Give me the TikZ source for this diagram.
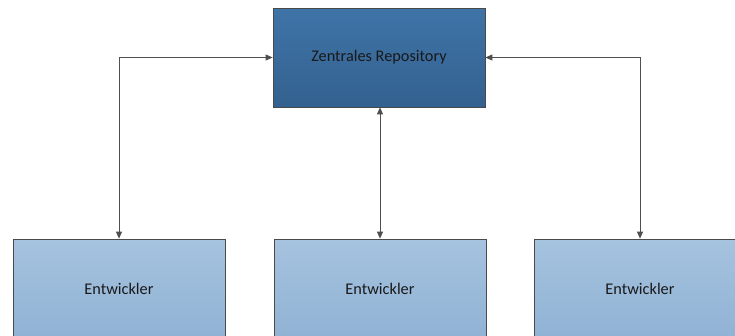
\documentclass[tikz,border=0pt]{standalone}
\usepackage{fontspec}
\setmainfont{Carlito}
\usetikzlibrary{arrows.meta}
\definecolor{repotop}{HTML}{3F74A8}
\definecolor{repobot}{HTML}{33618F}
\definecolor{devtop}{HTML}{A6C3DF}
\definecolor{devbot}{HTML}{90B2D4}
\definecolor{edge}{HTML}{4A4A4A}
\definecolor{wire}{HTML}{4F4F4F}
\tikzset{
  x=1pt, y=-1pt,
  boxbase/.style={draw=edge, line width=0.7pt, minimum width=212pt, minimum height=99pt,
    inner sep=0pt, font=\fontsize{16.3}{19}\selectfont, text=black!90},
  repo/.style={boxbase, top color=repotop, bottom color=repobot},
  dev/.style={boxbase, top color=devtop, bottom color=devbot},
  link/.style={draw=wire, line width=0.9pt, {Triangle[length=7pt,width=6pt]}-{Triangle[length=7pt,width=6pt]}}
}
\begin{document}
\begin{tikzpicture}
\useasboundingbox (0,0) rectangle (735,335);
\clip (0,0) rectangle (735,335);
\fill[white] (0,0) rectangle (735,335);
\node[repo] (repo) at (379,57.5) {Zentrales Repository};
\node[dev] (dev1) at (119,288.5) {Entwickler};
\node[dev] (dev2) at (380,288.5) {Entwickler};
\node[dev] (dev3) at (640,288.5) {Entwickler};
\draw[link] (dev1.north) |- (repo.west);
\draw[link] (dev3.north) |- (repo.east);
\draw[link] (dev2.north) -- (repo.south -| dev2.north);
\end{tikzpicture}
\end{document}
